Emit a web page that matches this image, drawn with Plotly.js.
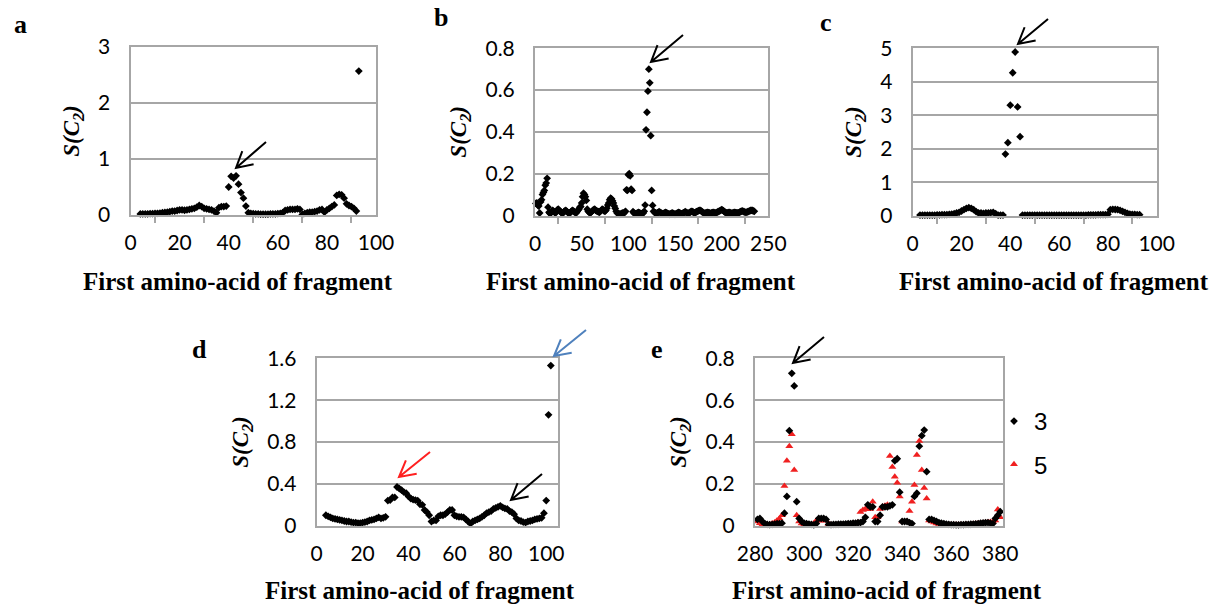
<!DOCTYPE html>
<html><head><meta charset="utf-8">
<script src="https://cdn.plot.ly/plotly-3.0.1.min.js"></script>
<style>html,body{margin:0;padding:0;background:#fff}#chart{width:1229px;height:605px}</style>
</head><body><div id="chart"></div>
<script>
// ---------- data ----------
const aStart = 4;
const aValues = [0.02,0.02,0.02,0.02,0.025,0.025,0.03,0.03,0.035,0.04,
 0.045,0.05,0.06,0.07,0.07,0.08,0.09,0.09,0.085,0.09,
 0.1,0.11,0.12,0.14,0.17,0.15,0.12,0.11,0.1,0.09,
 0.07,0.04,0.13,0.15,0.15,0.16,0.5,0.69,0.66,0.7,
 0.55,0.4,0.3,0.16,0.04,0.03,0.025,0.02,0.02,0.015,
 0.015,0.015,0.015,0.02,0.02,0.02,0.025,0.03,0.04,0.08,
 0.09,0.1,0.1,0.1,0.11,0.1,0.01,0.03,0.04,0.05,
 0.05,0.06,0.07,0.09,0.1,0.05,0.09,0.12,0.15,0.18,
 0.35,0.37,0.36,0.3,0.2,0.17,0.15,0.12,0.07,2.57];

const bStart = 1;
const bValues = [0.058,0.06,0.05,0.045,0.012,0.065,0.075,0.1,0.11,0.12,0.145,0.155,0.178,0.04,
 0.015,0.01,0.012,0.02,0.025,0.02,0.015,0.012,0.02,0.028,0.03,0.025,0.02,0.015,0.01,0.012,0.018,0.022,0.025,0.02,
 0.015,0.012,0.01,0.015,0.02,0.025,0.022,0.018,0.015,0.012,0.018,0.025,0.03,0.04,
 0.043,0.06,0.09,0.107,0.1,0.09,0.072,0.03,
 0.02,0.015,0.012,0.015,0.02,0.025,0.028,0.03,0.025,0.022,0.02,0.018,0.015,0.02,0.025,0.03,0.028,0.022,0.02,0.025,0.035,
 0.05,0.06,0.075,0.083,0.08,0.07,0.06,0.045,0.034,0.02,0.012,
 0.01,0.008,0.006,0.008,0.01,0.012,0.01,0.015,
 0.02,0.123,0.12,0.195,0.2,0.19,0.126,0.12,0.018,
 0.012,0.01,0.008,0.01,0.012,0.015,0.012,0.01,0.008,0.01,0.012,0.02,
 0.05,0.41,0.494,0.595,0.7,0.635,0.382,0.12,0.048,
 0.02,0.015,0.012,0.01,0.012,0.015,0.018,0.015,0.012,0.01,
 0.008,0.01,0.012,0.015,0.012,0.01,0.008,0.006,0.008,0.01,
 0.012,0.01,0.008,0.006,0.008,0.01,0.012,0.015,0.012,0.01,
 0.008,0.01,0.012,0.015,0.018,0.015,0.012,0.01,0.012,0.015,
 0.018,0.02,0.018,0.015,0.012,0.015,0.018,0.02,0.022,0.025,
 0.025,0.022,0.018,0.015,0.012,0.01,0.012,0.014,0.015,0.014,
 0.012,0.01,0.012,0.014,0.015,0.014,0.012,0.013,0.015,0.018,
 0.02,0.022,0.025,0.028,0.026,0.022,0.018,0.015,0.012,0.012,
 0.014,0.015,0.014,0.012,0.01,0.012,0.014,0.015,0.014,0.013,
 0.012,0.013,0.015,0.018,0.02,0.022,0.02,0.018,0.016,0.015,
 0.016,0.018,0.02,0.022,0.024,0.025,0.024,0.022,0.02];

const cStart = 3;
const cValues = [0.02,0.02,0.02,0.02,0.02,0.02,0.02,0.025,0.025,0.03,0.03,
 0.035,0.04,0.05,0.06,0.08,0.1,0.14,0.18,0.22,
 0.24,0.22,0.18,0.12,0.08,0.08,0.07,0.08,0.08,0.09,0.1,0.06,0.02,0.02,0.02,
 1.84,2.18,3.3,4.27,4.89,3.25,2.36,
 0.02,0.02,0.02,0.02,0.02,0.02,0.02,0.02,0.02,0.02,
 0.02,0.02,0.02,0.02,0.02,0.02,0.02,0.02,0.02,0.02,
 0.02,0.02,0.02,0.02,0.02,0.02,0.02,0.025,0.025,0.025,
 0.025,0.03,0.03,0.03,0.035,0.04,
 0.18,0.19,0.185,0.18,0.16,0.13,0.1,0.07,0.05,0.04,0.04,0.03,0.03];

const dStart = 4;
const dValues = [0.1,0.09,0.08,0.07,0.065,0.06,0.055,
 0.05,0.045,0.04,0.04,0.035,0.03,0.03,
 0.025,0.025,0.03,0.035,0.04,
 0.05,0.055,0.06,0.07,0.08,0.07,0.075,0.085,
 0.24,0.245,0.27,0.27,0.37,0.355,0.34,0.32,0.31,0.28,
 0.26,0.25,0.245,0.24,0.205,0.2,0.15,0.13,0.1,0.04,
 0.05,0.05,0.09,0.1,0.1,0.11,0.13,0.15,0.15,0.1,
 0.09,0.085,0.085,0.08,0.06,0.04,0.02,0.04,0.05,0.06,
 0.07,0.085,0.1,0.12,0.13,0.14,0.16,0.17,0.18,0.19,
 0.175,0.165,0.16,0.14,0.13,0.11,0.07,0.05,0.045,0.035,
 0.03,0.04,0.045,0.05,0.06,0.065,0.07,0.075,0.12,0.24,
 1.06,1.53];

const eStart = 281;
const eSeries3 = [0.03,0.035,0.02,0.01,0.006,0.005,0.006,0.008,0.01,0.01,
 0.012,0.06,0.14,0.454,0.728,0.668,0.115,0.035,0.02,0.012,
 0.01,0.008,0.006,0.004,0.01,0.035,0.035,0.035,0.03,0.006,
 0.005,0.006,0.006,0.007,0.008,0.008,0.009,0.01,0.01,0.012,
 0.012,0.014,0.015,0.02,0.04,0.1,0.09,0.09,0.02,0.02,
 0.05,0.09,0.09,0.09,0.095,0.1,0.31,0.32,0.16,0.02,
 0.02,0.02,0.015,0.01,0.14,0.155,0.38,0.43,0.457,0.258,
 0.03,0.03,0.025,0.02,0.015,0.012,0.01,0.008,0.006,0.005,
 0.005,0.004,0.004,0.005,0.005,0.006,0.006,0.007,0.008,0.009,
 0.01,0.012,0.013,0.014,0.015,0.012,0.01,0.035,0.05,0.067];
const eSeries5 = [0.02,0.012,0.006,0.004,0.004,0.006,0.01,0.015,0.025,0.035,
 0.05,0.19,0.31,0.38,0.437,0.266,0.05,0.02,0.01,0.006,
 0.006,0.005,0.005,0.01,0.025,0.025,0.025,0.025,0.025,0.008,
 0.005,0.004,0.004,0.005,0.005,0.006,0.006,0.007,0.008,0.01,
 0.012,0.015,0.065,0.075,0.08,0.08,0.08,0.115,0.04,0.04,
 0.08,0.09,0.095,0.1,0.333,0.28,0.234,0.205,0.14,0.02,
 0.02,0.02,0.07,0.115,0.195,0.338,0.405,0.266,0.18,0.13,
 0.025,0.02,0.015,0.01,0.008,0.006,0.005,0.004,0.004,0.004,
 0.004,0.004,0.005,0.005,0.005,0.006,0.006,0.007,0.008,0.009,
 0.01,0.012,0.013,0.015,0.016,0.018,0.02,0.025,0.078,0.04];
const legendNames = ['3','5'];
const panelLetters = ['a','b','c','d','e'];
const xTitle = 'First amino-acid of fragment';
const yTitle = '<i>S(C<sub>2</sub>)</i>';

// ---------- helpers ----------
const W = 1229, H = 605;
const idx = (start, arr) => arr.map((_, i) => start + i);
const PX = p => p / W, PY = p => 1 - p / H;

const tickFont = {family: 'Lato, Open Sans, sans-serif', size: 21, color: '#000'};
const serif = 'Liberation Serif, Times New Roman, DejaVu Serif, serif';
const titleFont = {family: serif, size: 23, color: '#000', weight: 'bold'};
const gridC = '#a6a6a6';

function xAxis(l, r, range, dtick, minor, anchor) {
  const ax = {domain: [PX(l), PX(r)], range: range, anchor: anchor, dtick: dtick, tick0: range[0],
    showgrid: false, zeroline: false, showline: true, linecolor: gridC, linewidth: 2, mirror: true,
    ticks: 'outside', ticklen: 0, tickcolor: gridC, tickwidth: 2,
    tickfont: tickFont, ticklabelstandoff: 8};
  if (minor) ax.minor = {dtick: minor, ticks: 'outside', ticklen: 6, tickcolor: gridC, tickwidth: 2, showgrid: false};
  return ax;
}
function yAxis(t, b, range, dtick, anchor) {
  return {domain: [PY(b), PY(t)], range: range, anchor: anchor, dtick: dtick, tick0: 0,
    showgrid: true, gridcolor: gridC, gridwidth: 2, zeroline: false,
    showline: true, linecolor: gridC, linewidth: 2, mirror: true, ticks: '',
    tickfont: tickFont, ticklabelstandoff: 14,
    title: {text: yTitle, font: titleFont, standoff: 12}};
}

const mk = {symbol: 'diamond', size: 6, color: '#000'};
const traces = [
  {x: idx(aStart, aValues), y: aValues, xaxis: 'x', yaxis: 'y', mode: 'markers', marker: mk, showlegend: false, cliponaxis: false},
  {x: idx(bStart, bValues), y: bValues, xaxis: 'x2', yaxis: 'y2', mode: 'markers', marker: mk, showlegend: false, cliponaxis: false},
  {x: idx(cStart, cValues), y: cValues, xaxis: 'x3', yaxis: 'y3', mode: 'markers', marker: mk, showlegend: false, cliponaxis: false},
  {x: idx(dStart, dValues), y: dValues, xaxis: 'x4', yaxis: 'y4', mode: 'markers', marker: mk, showlegend: false, cliponaxis: false},
  {x: idx(eStart, eSeries5), y: eSeries5, xaxis: 'x5', yaxis: 'y5', mode: 'markers', name: legendNames[1], legendgroup: 'g5', legendrank: 2,
   marker: {symbol: 'triangle-up', size: 7, color: '#f02020'}, cliponaxis: false},
  {x: idx(eStart, eSeries3), y: eSeries3, xaxis: 'x5', yaxis: 'y5', mode: 'markers', name: legendNames[0], legendgroup: 'g3', legendrank: 1,
   marker: mk, cliponaxis: false}
];

// arrows (decorations) in pixel space -> paper
function arrow(tx, ty, hx, hy, color) {
  const ang = Math.atan2(ty - hy, tx - hx), L = 18, s = 0.5;
  const w1 = [hx + L * Math.cos(ang + s), hy + L * Math.sin(ang + s)];
  const w2 = [hx + L * Math.cos(ang - s), hy + L * Math.sin(ang - s)];
  const p = (x, y) => PX(x).toFixed(5) + ',' + PY(y).toFixed(5);
  return {type: 'path', xref: 'paper', yref: 'paper',
    path: 'M' + p(tx, ty) + ' L' + p(hx, hy) + ' M' + p(w1[0], w1[1]) + ' L' + p(hx, hy) + ' L' + p(w2[0], w2[1]),
    line: {color: color, width: 2}};
}
const shapes = [
  arrow(266, 142, 236, 168, '#000'),
  arrow(683, 35, 651, 62, '#000'),
  arrow(1048, 19, 1018, 44, '#000'),
  arrow(430, 452, 399, 477, '#ff2020'),
  arrow(542, 474, 511, 500, '#000'),
  arrow(586, 330, 554, 356, '#4f81bd'),
  arrow(824, 337, 793, 363, '#000')
];

const letterPos = [[20, 24], [441, 18], [826, 22], [199, 349], [657, 349]];
const annotations = panelLetters.map((t, i) => ({
  text: '<b>' + t + '</b>', x: PX(letterPos[i][0]), y: PY(letterPos[i][1]), xref: 'paper', yref: 'paper',
  showarrow: false, font: {family: serif, size: 26, color: '#000'}, xanchor: 'center', yanchor: 'middle'}));
const xTitlePos = [[238, 281], [641, 281], [1054, 281], [420, 590], [887, 590]];
xTitlePos.forEach(p => annotations.push({text: xTitle, x: PX(p[0]), y: PY(p[1]), xref: 'paper', yref: 'paper',
  showarrow: false, font: {family: serif, size: 25, color: '#000', weight: 'bold'}, xanchor: 'center', yanchor: 'middle'}));

const layout = {
  width: W, height: H, margin: {l: 0, r: 0, t: 0, b: 0}, paper_bgcolor: '#fff', plot_bgcolor: '#fff',
  xaxis: xAxis(130.5, 376, [0, 100], 20, 10, 'y'),
  yaxis: yAxis(47, 215, [0, 3], 1, 'x'),
  xaxis2: xAxis(535, 768.3, [0, 250], 50, 25, 'y2'),
  yaxis2: yAxis(48.3, 215.5, [0, 0.8], 0.2, 'x2'),
  xaxis3: xAxis(912.7, 1156.7, [0, 100], 20, 10, 'y3'),
  yaxis3: yAxis(48.3, 215.7, [0, 5], 1, 'x3'),
  xaxis4: xAxis(316.7, 557.7, [0, 105], 20, 0, 'y4'),
  yaxis4: yAxis(358.3, 525.7, [0, 1.6], 0.4, 'x4'),
  xaxis5: xAxis(755, 1002.7, [280, 381], 20, 0, 'y5'),
  yaxis5: yAxis(358.3, 525.7, [0, 0.8], 0.2, 'x5'),
  showlegend: true,
  legend: {x: PX(994), y: PY(399), xanchor: 'left', yanchor: 'top', bgcolor: 'rgba(0,0,0,0)',
    font: {family: 'Liberation Sans, Arial, sans-serif', size: 24, color: '#000'}, tracegroupgap: 9, itemwidth: 30},
  shapes: shapes, annotations: annotations
};
Plotly.newPlot('chart', traces, layout, {displayModeBar: false, staticPlot: true});
</script></body></html>
